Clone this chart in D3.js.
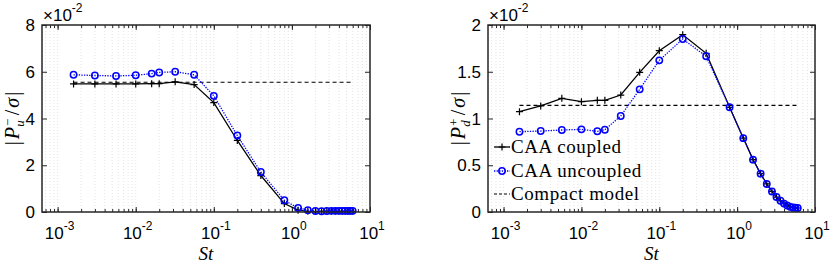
<!DOCTYPE html>
<html>
<head>
<meta charset="utf-8">
<script src="https://cdn.jsdelivr.net/npm/d3@7"></script>
<style>
    body { margin: 0; background: #fff; }
    svg { display: block; }
</style>
</head>
<body>
<div id="chart"></div>
<script>
// Strouhal numbers
const st = [0.0016, 0.003, 0.0056, 0.01, 0.016, 0.02, 0.032, 0.056, 0.1, 0.2, 0.4, 0.8,
            1.2, 1.6, 2.0, 2.4, 2.8, 3.2, 3.6, 4.0, 4.4, 4.8, 5.2, 5.6, 6.0];

// |P_u^- / sigma|  (x 1e-2)
const upCoupled = [5.48, 5.48, 5.48, 5.48, 5.49, 5.49, 5.57, 5.45, 4.68, 3.06, 1.56, 0.36,
                   0.08, 0.03, 0.02, 0.03, 0.03, 0.03, 0.03, 0.03, 0.03, 0.03, 0.03, 0.03, 0.03];
const upUncoupled = [5.87, 5.84, 5.82, 5.85, 5.92, 5.97, 6.0, 5.87, 4.97, 3.27, 1.71, 0.5,
                     0.17, 0.08, 0.04, 0.03, 0.04, 0.05, 0.05, 0.05, 0.05, 0.05, 0.05, 0.05, 0.05];
const upCompact = 5.55;

// |P_d^+ / sigma|  (x 1e-2)
const dnCoupled = [1.073, 1.134, 1.216, 1.18, 1.194, 1.194, 1.251, 1.494, 1.725, 1.896, 1.697, 1.12,
                   0.79, 0.56, 0.41, 0.30, 0.22, 0.16, 0.12, 0.09, 0.07, 0.055, 0.048, 0.045, 0.043];
const dnUncoupled = [0.859, 0.866, 0.877, 0.884, 0.863, 0.88, 1.027, 1.312, 1.622, 1.85, 1.665, 1.12,
                     0.79, 0.56, 0.41, 0.30, 0.22, 0.16, 0.12, 0.09, 0.07, 0.055, 0.048, 0.045, 0.043];
const dnCompact = 1.14;

const xDecades = [-3, -2, -1, 0, 1];
const upYTicks = [0, 2, 4, 6, 8];
const dnYTicks = [0, 0.5, 1, 1.5, 2];
const legendLabels = ['CAA coupled', 'CAA uncoupled', 'Compact model'];

const width = 830;
const height = 265;
const sansFont = '"Liberation Sans", Arial, Helvetica, sans-serif';
const serifFont = '"Liberation Serif", "Times New Roman", Times, serif';

const svg = d3.select('#chart')
    .append('svg')
    .attr('width', width)
    .attr('height', height);

const drawPanel = (opts) => {
    const { left, right, top, bottom, yMax, yTicks, coupled, uncoupled, compact, sub, sup } = opts;

    const xScale = d3.scaleLog()
        .domain([Math.pow(10, -3.2), 10])
        .range([left, right]);
    const yScale = d3.scaleLinear()
        .domain([0, yMax])
        .range([bottom, top]);

    const g = svg.append('g');

    g.append('rect')
        .attr('x', left).attr('y', top)
        .attr('width', right - left).attr('height', bottom - top)
        .attr('fill', '#fff');

    // minor + major vertical grid
    const minorVals = [];
    for (let e = -4; e <= 0; e++) {
        for (let m = 1; m <= 9; m++) {
            const v = m * Math.pow(10, e);
            if (v >= xScale.domain()[0] && v <= 10) minorVals.push(v);
        }
    }
    g.selectAll('.vgrid')
        .data(minorVals)
        .enter()
        .append('line')
        .attr('class', 'vgrid')
        .attr('x1', d => xScale(d)).attr('x2', d => xScale(d))
        .attr('y1', top).attr('y2', bottom)
        .attr('stroke', '#d8d8d8')
        .attr('stroke-width', 0.7)
        .attr('stroke-dasharray', '1,2');

    // ticks, inside, on all four sides
    const majorVals = xDecades.map(e => Math.pow(10, e));
    const tickAxes = [
        [d3.axisBottom(xScale).tickValues(minorVals).tickSize(-3), bottom, 'x'],
        [d3.axisTop(xScale).tickValues(minorVals).tickSize(-3), top, 'x'],
        [d3.axisBottom(xScale).tickValues(majorVals).tickSize(-5), bottom, 'x'],
        [d3.axisTop(xScale).tickValues(majorVals).tickSize(-5), top, 'x'],
        [d3.axisLeft(yScale).tickValues(yTicks).tickSize(-5), left, 'y'],
        [d3.axisRight(yScale).tickValues(yTicks).tickSize(-5), right, 'y']
    ];
    tickAxes.forEach(([axis, pos, dir]) => {
        const a = g.append('g')
            .attr('transform', dir === 'x' ? 'translate(0,' + pos + ')' : 'translate(' + pos + ',0)')
            .call(axis.tickFormat(''));
        a.select('.domain').remove();
        a.selectAll('line').attr('stroke', '#262626').attr('stroke-width', 1);
    });

    // y tick labels
    g.selectAll('.ylab')
        .data(yTicks)
        .enter()
        .append('text')
        .attr('font-family', sansFont)
        .attr('font-size', 17)
        .attr('x', left - 7)
        .attr('y', d => yScale(d) + 6)
        .attr('text-anchor', 'end')
        .text(d => d);

    // x tick labels 10^n
    xDecades.forEach(e => {
        const t = g.append('text')
            .attr('font-family', sansFont)
            .attr('font-size', 17)
            .attr('x', xScale(Math.pow(10, e)) + 2)
            .attr('y', bottom + 27)
            .attr('text-anchor', 'middle');
        t.append('tspan').text('10');
        t.append('tspan').attr('dy', -9).attr('font-size', 12).text(e < 0 ? '-' + (-e) : String(e));
    });

    // multiplier
    const mult = g.append('text')
        .attr('font-family', sansFont)
        .attr('font-size', 17)
        .attr('x', left + 1)
        .attr('y', top - 4);
    mult.append('tspan').text('\u00d710');
    mult.append('tspan').attr('dy', -9).attr('font-size', 12).text('-2');

    // x label
    g.append('text')
        .attr('font-family', serifFont)
        .attr('x', (left + right) / 2)
        .attr('y', 260)
        .attr('text-anchor', 'middle')
        .attr('font-size', 19)
        .attr('font-style', 'italic')
        .text('St');

    // y label
    const yl = g.append('text')
        .attr('font-family', serifFont)
        .attr('font-size', 20)
        .attr('text-anchor', 'middle')
        .attr('transform', 'translate(' + (left - 23) + ',' + ((top + bottom) / 2) + ') rotate(-90)');
    yl.append('tspan').text('|');
    yl.append('tspan').attr('font-style', 'italic').attr('dx', 2).text('P');
    yl.append('tspan').attr('font-size', 13).attr('dy', -7).attr('dx', 1).text(sup);
    yl.append('tspan').attr('font-size', 13).attr('font-style', 'italic').attr('dy', 12).attr('dx', -8).text(sub);
    yl.append('tspan').attr('dy', -5).attr('dx', 5).text('/');
    yl.append('tspan').attr('font-style', 'italic').attr('dx', 2).text('\u03c3');
    yl.append('tspan').attr('dx', 2).text('|');

    const line = d3.line()
        .x((d, i) => xScale(st[i]))
        .y(d => yScale(d));

    // compact model
    g.append('line')
        .attr('x1', xScale(st[0])).attr('x2', xScale(st[st.length - 1]))
        .attr('y1', yScale(compact)).attr('y2', yScale(compact))
        .attr('stroke', '#000')
        .attr('stroke-width', 1.2)
        .attr('stroke-dasharray', '4,3');

    // coupled
    g.append('path')
        .datum(coupled)
        .attr('d', line)
        .attr('fill', 'none')
        .attr('stroke', '#000')
        .attr('stroke-width', 1.3);
    g.selectAll('.plus')
        .data(coupled)
        .enter()
        .append('path')
        .attr('class', 'plus')
        .attr('d', (d, i) => {
            const x = xScale(st[i]), y = yScale(d);
            return 'M' + (x - 3.5) + ',' + y + 'H' + (x + 3.5) + 'M' + x + ',' + (y - 3.5) + 'V' + (y + 3.5);
        })
        .attr('stroke', '#000')
        .attr('stroke-width', 1.2);

    // uncoupled
    g.append('path')
        .datum(uncoupled)
        .attr('d', line)
        .attr('fill', 'none')
        .attr('stroke', '#0000ff')
        .attr('stroke-width', 1.3)
        .attr('stroke-dasharray', '1.3,1.3');
    g.selectAll('.circ')
        .data(uncoupled)
        .enter()
        .append('circle')
        .attr('class', 'circ')
        .attr('cx', (d, i) => xScale(st[i]))
        .attr('cy', d => yScale(d))
        .attr('r', 3.2)
        .attr('fill', 'none')
        .attr('stroke', '#0000ff')
        .attr('stroke-width', 1.5);

    // box
    g.append('rect')
        .attr('x', left).attr('y', top)
        .attr('width', right - left).attr('height', bottom - top)
        .attr('fill', 'none')
        .attr('stroke', '#262626')
        .attr('stroke-width', 1.5);

    return g;
};

drawPanel({ left: 42, right: 370, top: 25, bottom: 212, yMax: 8, yTicks: upYTicks,
            coupled: upCoupled, uncoupled: upUncoupled, compact: upCompact, sub: 'u', sup: '\u2212' });

const right = drawPanel({ left: 488, right: 815, top: 25, bottom: 212, yMax: 2, yTicks: dnYTicks,
            coupled: dnCoupled, uncoupled: dnUncoupled, compact: dnCompact, sub: 'd', sup: '+' });

// legend in the right panel
const legY = [147, 171, 194];
const leg = right.append('g');
legendLabels.forEach((lab, i) => {
    const y = legY[i];
    const x0 = 494, x1 = 510;
    const ln = leg.append('line')
        .attr('x1', x0).attr('x2', x1).attr('y1', y).attr('y2', y)
        .attr('stroke', i === 1 ? '#0000ff' : '#000')
        .attr('stroke-width', i === 2 ? 1.2 : 1.3);
    if (i === 1) ln.attr('stroke-dasharray', '1.3,1.3');
    if (i === 2) ln.attr('stroke-dasharray', '3,2');
    if (i === 0) {
        leg.append('path')
            .attr('d', 'M' + 498.5 + ',' + y + 'H' + 505.5 + 'M' + 502 + ',' + (y - 3.5) + 'V' + (y + 3.5))
            .attr('stroke', '#000').attr('stroke-width', 1.2);
    }
    if (i === 1) {
        leg.append('circle')
            .attr('cx', 502).attr('cy', y).attr('r', 3.2)
            .attr('fill', 'none').attr('stroke', '#0000ff').attr('stroke-width', 1.5);
    }
    leg.append('text')
        .attr('font-family', serifFont)
        .attr('x', x1 + 1)
        .attr('y', y + 6)
        .attr('font-size', 19)
        .attr('letter-spacing', 0.6)
        .text(lab);
});
</script>
</body>
</html>
